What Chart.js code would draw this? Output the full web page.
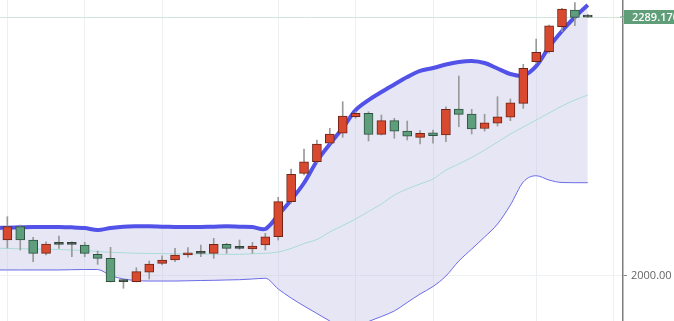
<!DOCTYPE html>
<html>
<head>
<meta charset="utf-8">
<script src="https://cdn.jsdelivr.net/npm/chart.js@4/dist/chart.umd.min.js"></script>
<style>
  html, body { margin: 0; padding: 0; background: #fff; }
  #wrap { width: 674px; height: 321px; }
</style>
</head>
<body>
<div id="wrap"><canvas id="chart" width="674" height="321"></canvas></div>
<script>
// ===== Data =====
const candleIdx = [0,1,2,3,4,5,6,7,8,9,10,11,12,13,14,15,16,17,18,19,20,21,22,23,24,25,26,27,28,29,30,31,32,33,34,35,36,37,38,39,40,41,42,43,44,45];
const open  = [2039.7,2054.6,2039.7,2024.8,2035.2,2034.9,2034.1,2023.7,2019.2,1993.1,1993.1,2003.6,2013.6,2017.3,2022.9,2025.0,2024.8,2034.9,2030.6,2029.6,2034.1,2043.4,2082.6,2114.3,2127.3,2147.9,2159.1,2177.6,2181.4,2157.9,2173.2,2161.6,2154.6,2159.7,2157.2,2186.2,2180.7,2164.4,2170.3,2177.0,2192.6,2239.2,2250.3,2278.3,2297.0,2289.0];
const high  = [2065.8,2056.5,2042.7,2037.8,2044.2,2037.8,2037.1,2027.4,2031.5,1995.7,2008.7,2016.2,2022.1,2030.4,2031.1,2034.1,2041.6,2036.0,2039.7,2037.1,2047.2,2087.5,2119.1,2141.5,2151.6,2164.7,2194.4,2183.2,2183.2,2179.5,2175.8,2172.8,2162.0,2162.8,2188.8,2223.2,2185.9,2180.4,2200.0,2197.4,2236.2,2264.5,2280.2,2298.9,2305.2,2292.2];
const low   = [2030.8,2028.5,2015.4,2022.9,2030.4,2021.0,2021.0,2012.5,1992.7,1985.7,1992.8,1996.1,2011.7,2015.4,2020.4,2021.0,2019.2,2024.8,2029.3,2024.8,2028.5,2039.7,2080.8,2112.4,2126.2,2147.1,2154.6,2175.8,2150.5,2157.2,2153.5,2151.6,2147.1,2147.9,2149.7,2166.4,2158.3,2161.6,2167.2,2173.2,2187.0,2237.4,2248.6,2272.7,2279.4,2288.8];
const close = [2054.6,2039.7,2024.8,2035.2,2034.9,2035.0,2024.8,2019.2,1993.1,1993.3,2004.3,2012.9,2017.3,2022.9,2025.5,2024.8,2034.9,2030.4,2030.4,2033.0,2043.4,2082.6,2113.2,2127.3,2147.1,2158.3,2178.4,2181.4,2157.9,2173.2,2161.6,2156.0,2159.1,2156.4,2185.9,2180.3,2163.9,2170.9,2177.6,2193.3,2231.8,2249.7,2279.4,2298.1,2288.8,2289.17];

// Bollinger bands (start one bar before the first visible candle)
const bandIdx = [-1,0,1,2,3,4,5,6,7,8,9,10,11,12,13,14,15,16,17,18,19,20,21,22,23,24,25,26,27,28,29,30,31,32,33,34,35,36,37,38,39,40,41,42,43,44,45];
const upperBand = [2053.1,2053.5,2053.9,2054.3,2054.3,2054.3,2053.9,2053.1,2050.9,2053.1,2054.6,2055.0,2055.0,2054.6,2054.3,2054.3,2054.3,2054.6,2055.0,2054.6,2054.3,2052.0,2067.7,2084.5,2103.5,2128.1,2147.1,2165.0,2185.1,2196.3,2205.3,2213.7,2222.0,2228.8,2232.1,2236.0,2238.8,2239.9,2237.7,2231.6,2225.4,2223.7,2234.3,2255.6,2273.5,2289.2,2302.6];
const midBand   = [2030.8,2030.2,2029.9,2029.6,2029.4,2029.1,2028.5,2028.0,2026.8,2026.0,2025.4,2024.9,2024.7,2024.5,2024.3,2024.1,2024.1,2023.8,2023.7,2023.7,2024.3,2024.8,2026.3,2030.2,2035.8,2040.3,2048.7,2055.9,2063.2,2071.6,2080.0,2090.0,2096.8,2102.4,2107.9,2118.0,2124.7,2132.0,2140.4,2149.3,2158.3,2166.1,2173.9,2181.8,2189.6,2196.3,2201.9];
const lowerBand = [2006.2,2006.2,2006.2,2006.2,2006.2,2006.2,2006.5,2006.7,2006.7,2000.0,1996.1,1994.4,1993.8,1993.8,1993.8,1994.1,1994.4,1994.6,1995.0,1995.3,1996.1,1996.9,1984.9,1974.8,1965.9,1957.5,1949.1,1940.2,1941.3,1948.5,1954.1,1960.3,1969.8,1979.3,1987.7,1999.4,2016.2,2029.6,2043.1,2057.6,2078.9,2104.6,2111.6,2106.8,2104.0,2103.8,2103.8];

const xGridTicks = [0, 6, 12, 21, 27, 33, 41, 47];
const yTicks = [2000];
const lastPrice = 2289.17;
const lastPriceLabel = '2289.170';

// ===== Colours =====
const UP_FILL = '#d9492f', UP_LINE = '#6e2417';
const DOWN_FILL = '#5f9e7c', DOWN_LINE = '#2f5140';
const DOJI = '#34463b';

const bodyFill = candleIdx.map(i => Math.abs(close[i] - open[i]) < 0.5 ? DOJI : (close[i] > open[i] ? UP_FILL : DOWN_FILL));
const bodyLine = candleIdx.map(i => Math.abs(close[i] - open[i]) < 0.5 ? DOJI : (close[i] > open[i] ? UP_LINE : DOWN_LINE));

const pts = arr => bandIdx.map((x, k) => ({ x: x, y: arr[k] }));

// price line + tag on the right axis
const lastPriceTag = {
    id: 'lastPriceTag',
    beforeDatasetsDraw(chart) {
        const { ctx, chartArea } = chart;
        const y = Math.round(chart.scales.y.getPixelForValue(lastPrice)) + 0.5;
        ctx.save();
        ctx.strokeStyle = '#d3e5da';
        ctx.lineWidth = 1;
        ctx.beginPath();
        ctx.moveTo(chartArea.left, y);
        ctx.lineTo(chartArea.right, y);
        ctx.stroke();
        ctx.restore();
    },
    afterDraw(chart) {
        const { ctx, chartArea } = chart;
        const y = chart.scales.y.getPixelForValue(lastPrice);
        ctx.save();
        ctx.fillStyle = '#5f9e78';
        ctx.fillRect(chartArea.right + 1, y - 7, 60, 14);
        ctx.fillRect(chartArea.right - 3, y - 0.5, 4, 1);
        ctx.fillStyle = '#ffffff';
        ctx.font = '600 11px "Open Sans"';
        ctx.textBaseline = 'middle';
        ctx.textAlign = 'left';
        ctx.fillText(lastPriceLabel, chartArea.right + 9, y + 0.5);
        ctx.restore();
    }
};

new Chart(document.getElementById('chart').getContext('2d'), {
    type: 'bar',
    data: {
        datasets: [
            {
                type: 'line', label: 'Lower', data: pts(lowerBand),
                borderColor: '#6b6be6', borderWidth: 1, pointRadius: 0,
                cubicInterpolationMode: 'monotone', fill: false, order: 3
            },
            {
                type: 'line', label: 'Middle', data: pts(midBand),
                borderColor: '#a9dcd5', borderWidth: 1, pointRadius: 0, tension: 0.3, fill: false, order: 3
            },
            {
                type: 'line', label: 'Upper', data: pts(upperBand),
                borderColor: '#5252e8', borderWidth: 4, pointRadius: 0, tension: 0.3,
                fill: '-2', backgroundColor: 'rgba(190, 190, 225, 0.38)', order: 2
            },
            {
                label: 'Wicks',
                data: candleIdx.map(i => ({ x: i, y: [low[i], high[i]] })),
                backgroundColor: '#999999', barThickness: 1, grouped: false, order: 1
            },
            {
                label: 'Bodies',
                data: candleIdx.map(i => ({ x: i, y: [open[i], close[i]] })),
                backgroundColor: bodyFill, borderColor: bodyLine, borderWidth: 1,
                borderSkipped: false, barThickness: 9, minBarLength: 2, grouped: false, order: 0
            }
        ]
    },
    options: {
        responsive: false,
        animation: false,
        layout: { padding: 0, autoPadding: false },
        plugins: {
            legend: { display: false },
            tooltip: { enabled: false },
            filler: { drawTime: 'beforeDatasetsDraw' }
        },
        scales: {
            x: {
                type: 'linear', min: -0.57, max: 47.73, offset: false,
                afterBuildTicks: s => { s.ticks = xGridTicks.map(v => ({ value: v })); },
                afterFit: s => { s.height = 0; s.paddingLeft = 0; s.paddingRight = 0; },
                grid: { color: '#edf0f3', drawTicks: false, offset: false },
                border: { display: false },
                ticks: { display: false }
            },
            y: {
                position: 'right', min: 1949.1, max: 2308.2,
                afterBuildTicks: s => { s.ticks = yTicks.map(v => ({ value: v })); },
                afterFit: s => { s.width = 51; s.paddingTop = 0; s.paddingBottom = 0; },
                grid: { color: '#eef1f4', tickColor: '#888', tickLength: 4 },
                border: { display: true, color: '#7d7d7d', width: 1.5 },
                ticks: {
                    color: '#666', padding: 4,
                    font: { family: 'Open Sans', size: 11 },
                    callback: v => v.toFixed(2)
                }
            }
        }
    },
    plugins: [lastPriceTag]
});
</script>
</body>
</html>
